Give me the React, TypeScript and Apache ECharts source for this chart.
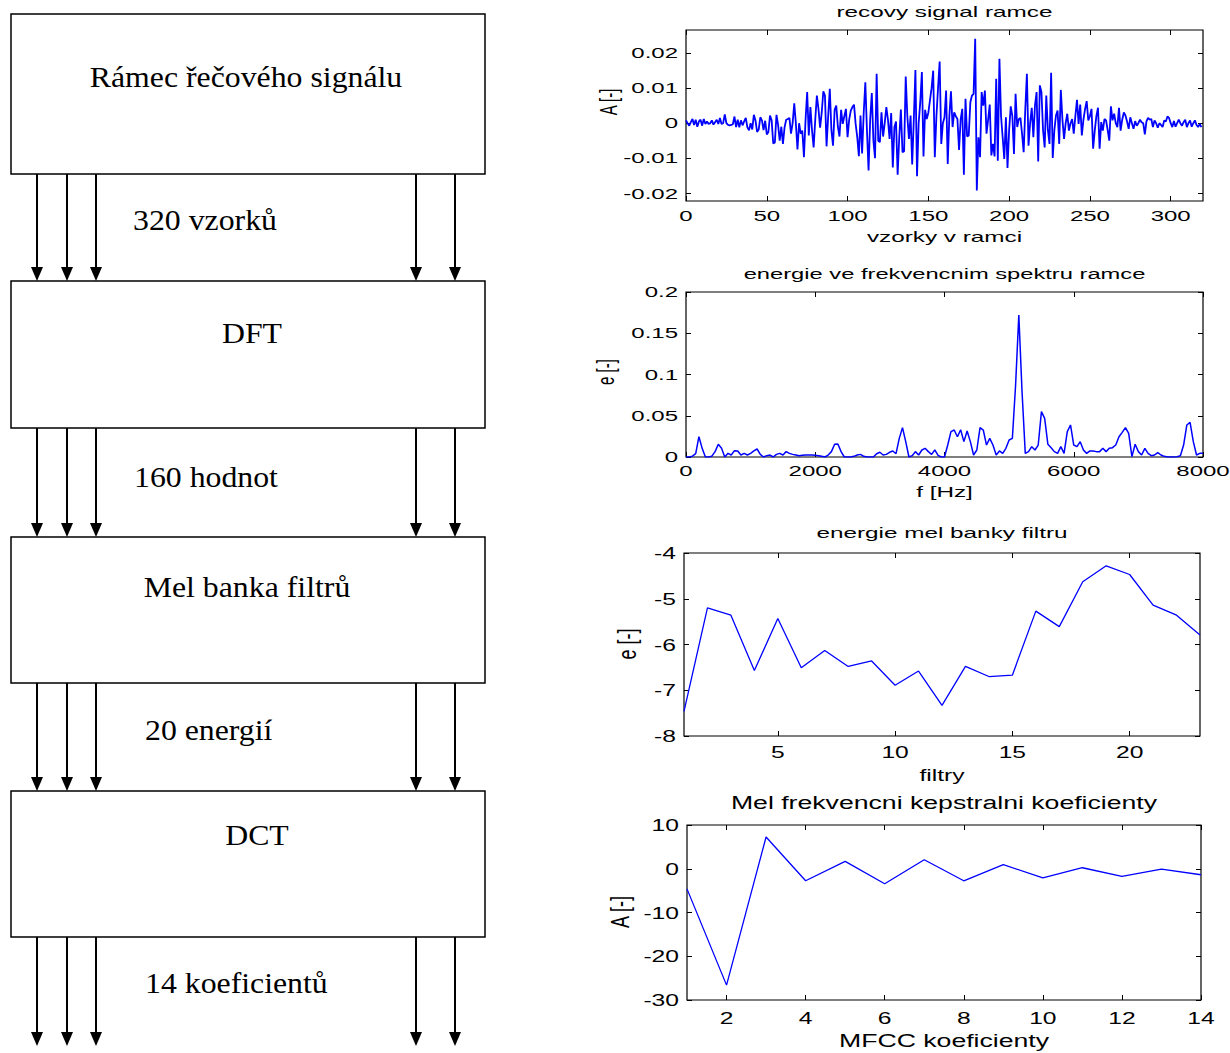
import React, { useEffect, useRef } from "react";
import * as echarts from "echarts";

// ---------------- DATA ----------------
// speech frame, 320 samples (sample index 0..319)
const frameSignal: number[] = [
  0.0008, 0, -0.0007, 0.0003, 0.0012, -0.0005, 0.001, -0.001, 0.0005, 0.001, -0.0007, 0.0012, -0.0002, 0.0005, -0.0002, 0, 0.0008, -0.0004, 0.0003, 0.001, -0.0002, 0.0015, -0.0002, 0,
  0.0025, 0, -0.0005, -0.0006, -0.0005, -0.0003, 0.0019, -0.0011, 0.001, -0.0012, 0.0008, -0.0006, 0.0005, 0.0015, -0.0012, -0.002, 0, -0.0018, 0.0024, 0.0008, -0.0025, -0.0018, 0.0017, 0.0008, -0.002, 0.0007, -0.0032, -0.0025, 0.0022, 0.0008, -0.0058, -0.0055, 0.0024, -0.0005, -0.005, -0.001, -0.0059, -0.0012, 0.001, 0.0012,
  0.0015, -0.003, 0, 0.0057, 0, -0.0075, 0, -0.003, -0.0021, -0.0097, 0.001, 0.0089, -0.0035, 0.0046, -0.002, -0.0069, 0.001, 0.0079, 0.004, -0.0013, 0.003, 0.0091, 0.0079, -0.0066, 0.002, 0.0098, -0.002, -0.0064, 0.0038, 0.005, -0.001, -0.0038, 0.0038, -0.0002, 0.002, 0.0041, -0.004, 0.001, 0.0036, 0.0046, 0.0053, -0.0002, -0.004, -0.0094, 0.0022, -0.0086, 0.003, 0.0117,
  -0.002, -0.0135, 0.001, 0.0086, -0.005, -0.01, 0.0141, -0.005, -0.0054, 0.0031, -0.0038, 0, 0.0046, 0.001, -0.0045, 0.0029, -0.0126,
  -0.0011, 0.0005, -0.0147, -0.004, 0.0039, -0.0083, -0.008, 0.0133, 0.002, -0.0045,
  0.0022, -0.0118, 0.001, 0.0152, -0.0151, 0, 0.006, 0.0146, -0.0095, 0.0038,
  0.0012, 0.003, 0.0065, 0.01, 0.015, -0.0097, 0.002, 0.01, 0.0176, -0.0059,
  0, 0.0017, 0.0093, -0.0116, 0.002, 0.0091, -0.0011, 0.0031, 0.002, 0.0012,
  -0.0076, 0.001, 0.0041, -0.0147, 0.007, -0.0038, -0.0035, 0.006, 0.0079, 0.0084,
  0.0241, -0.0192, -0.004, -0.0097, 0.0089, 0.005, 0.0093, -0.003, 0.001, 0.0053,
  -0.0092, -0.0059, -0.0095, 0.0127,
  -0.0107, 0.0184, 0.002, -0.004, -0.0102, 0.0017, -0.0128, -0.002, 0.0048, 0.002,
  -0.0088, 0.0084, -0.0011, 0.0012, 0.0015, -0.003, -0.0083, 0.004, 0.0141, -0.0064,
  0, 0.0044, -0.004, 0.005, 0.0089, -0.0109, 0.0108, 0.0089, -0.002, -0.0069,
  0.0079, -0.002, -0.0059, 0.0144, -0.0099, -0.002, 0.0022, 0.0036, -0.0059, 0.0095,
  0.001, -0.0045, 0, 0.0027, -0.0021, 0, 0.0012, -0.003, 0.002, 0.0067,
  -0.0002, 0.0053, -0.0035, 0.001, 0.004, 0.0063, 0.0008, 0.002, 0.0041, -0.0073,
  -0.0021, 0.002, 0.0044, -0.0073,
  0.0003, -0.0021, 0.0012, 0.0008, -0.002, -0.005, 0.0048, 0.0008, 0.0027, 0,
  -0.0011, 0.0044, -0.0021, 0.001, 0.0031, 0.0022, 0.0005, -0.0016, 0.0017, 0,
  -0.0016, 0.0006, -0.0007, 0, 0.001, 0.0003, 0, -0.0032, 0.0005, 0.0015,
  0.001, 0.0012, -0.0011, 0.0008, 0, -0.0013, 0, -0.0005, -0.0011, 0.0008,
  0.0005, 0.0019, 0.0015, 0, -0.0011, 0.0006, -0.001, 0, 0.001, 0,
  -0.0007, 0.0003, 0.001, -0.0011, 0, 0.0008, -0.001, 0, 0.0008, -0.0005,
  -0.0011, -0.0002, -0.0011,
];

// energy spectrum, bins every 50 Hz from 0 to 8000 Hz
const spectrumStepHz = 50;
const spectrumEnergy: number[] = [
  0, 0, 0.001, 0.004, 0.0246, 0.0105, 0, 0, 0.001, 0.0065,
  0.0154, 0.0105, 0, 0.0044, 0.0024, 0.0077, 0.0073, 0.0024, 0.0044, 0.0024,
  0.0044, 0.0073, 0.0097, 0.0032, 0, 0.0016, 0.0024, 0, 0.0032, 0.0044,
  0.0024, 0.0065, 0.0044, 0.0032, 0.0024, 0.0016, 0.002, 0.0024, 0.0024, 0.0024,
  0.002, 0.0016, 0.0008, 0, 0.0024, 0.0065, 0.0154, 0.0158, 0.0065, 0,
  0, 0, 0.0008, 0.0024, 0.0032, 0.0008, 0, 0, 0, 0.004,
  0.0057, 0.0024, 0.0032, 0.0057, 0.0073, 0.004, 0.0226, 0.0356, 0.0186, 0,
  0.0016, 0.0065, 0.0024, 0.0085, 0.0105, 0.0065, 0.0032, 0.0085, 0.002, 0,
  0, 0.0145, 0.0307, 0.0327, 0.0246, 0.033, 0.0186, 0.0315, 0.0186, 0.0024,
  0.0085, 0.0356, 0.0327, 0.0145, 0.0226, 0.0145, 0.0024, 0.0073, 0.0044, 0.0105,
  0.0206, 0.0226, 0.087, 0.172, 0.079, 0.0044, 0.0065, 0.0125, 0.0085, 0.0145,
  0.055, 0.0469, 0.0154, 0.0113, 0.0065, 0.0044, 0.0125, 0.0044, 0.0307, 0.0388,
  0.0145, 0.0125, 0.0186, 0.0085, 0.0044, 0.0073, 0.0073, 0.0065, 0.0065, 0.0105,
  0.0065, 0.0105, 0.0113, 0.0145, 0.0246, 0.0299, 0.0356, 0.0287, 0.0004, 0.0154,
  0.0065, 0.0024, 0.0105, 0.0044, 0.0016, 0.0024, 0.0053, 0.0024, 0.0008, 0,
  0, 0, 0.0004, 0.0016, 0.0145, 0.0388, 0.042, 0.0186, 0.0024, 0.0044,
  0.0044,
];

// mel filter bank log energies, filters 1..23
const melEnergy: number[] = [
  -7.46, -5.2, -5.36, -6.57, -5.43, -6.51, -6.13, -6.48, -6.36, -6.89, -6.58, -7.33,
  -6.48, -6.7, -6.67, -5.27, -5.61, -4.63, -4.28, -4.47, -5.14, -5.36, -5.79,
];

// MFCC coefficients 1..14
const mfccValues: number[] = [
  -4.6, -26.6, 7.25, -2.75, 1.68, -3.43, 2.06, -2.75, 0.92, -2.06, 0.23, -1.76, -0.08, -1.37,
];

// tick values
const sigXTicks = [0, 50, 100, 150, 200, 250, 300];
const sigYTicks = [-0.02, -0.01, 0, 0.01, 0.02];
const specXTicks = [0, 2000, 4000, 6000, 8000];
const specYTicks = [0, 0.05, 0.1, 0.15, 0.2];
const melXTicks = [5, 10, 15, 20];
const melYTicks = [-8, -7, -6, -5, -4];
const mfccXTicks = [2, 4, 6, 8, 10, 12, 14];
const mfccYTicks = [-30, -20, -10, 0, 10];

// diagram texts
const diagramBoxLabels = ["Rámec řečového signálu", "DFT", "Mel banka filtrů", "DCT"];
const diagramFlowLabels = ["320 vzorků", "160 hodnot", "20 energií", "14 koeficientů"];

// ---------------- LAYOUT ----------------
const SANS = '"Liberation Sans", Arial, Helvetica, sans-serif';
const SERIF = '"Liberation Serif", "Times New Roman", serif';

type Panel = {
  left: number; top: number; width: number; height: number;
  xMin: number; xMax: number; yMin: number; yMax: number;
  xTicks: number[]; yTicks: number[];
  data: number[][]; lineWidth: number;
  title: string; xName: string; yName: string;
  titleY: number; xNameY: number; yNameX: number; yNameY: number;
  tickLabelDy: number; titleFont: number; titleScale: number;
  tickFont: number; tickScale: number; nameFont: number; nameScale: number; yNameFont: number;
};

const panels: Panel[] = [
  {
    left: 686, top: 30, width: 517, height: 171,
    xMin: 0, xMax: 320, yMin: -0.0222, yMax: 0.0266,
    xTicks: sigXTicks, yTicks: sigYTicks,
    data: frameSignal.map((v, i) => [i, v]), lineWidth: 1.8,
    title: "recovy signal ramce", xName: "vzorky v ramci", yName: "A [-]",
    titleY: 12, xNameY: 237, yNameX: 609, yNameY: 102,
    tickLabelDy: 15, titleFont: 15, titleScale: 1.62,
    tickFont: 15, tickScale: 1.6, nameFont: 15, nameScale: 1.62, yNameFont: 15,
  },
  {
    left: 686, top: 292, width: 517, height: 165,
    xMin: 0, xMax: 8000, yMin: 0, yMax: 0.2,
    xTicks: specXTicks, yTicks: specYTicks,
    data: spectrumEnergy.map((v, i) => [i * spectrumStepHz, v]), lineWidth: 1.5,
    title: "energie ve frekvencnim spektru ramce", xName: "f [Hz]", yName: "e [-]",
    titleY: 274, xNameY: 492, yNameX: 606, yNameY: 372,
    tickLabelDy: 14, titleFont: 15, titleScale: 1.58,
    tickFont: 15, tickScale: 1.6, nameFont: 15, nameScale: 1.62, yNameFont: 15,
  },
  {
    left: 684, top: 553, width: 516, height: 183,
    xMin: 1, xMax: 23, yMin: -8, yMax: -4,
    xTicks: melXTicks, yTicks: melYTicks,
    data: melEnergy.map((v, i) => [i + 1, v]), lineWidth: 1.3,
    title: "energie mel banky filtru", xName: "filtry", yName: "e [-]",
    titleY: 533, xNameY: 775, yNameX: 627, yNameY: 644,
    tickLabelDy: 16, titleFont: 15, titleScale: 1.62,
    tickFont: 17, tickScale: 1.45, nameFont: 17, nameScale: 1.45, yNameFont: 18,
  },
  {
    left: 687, top: 825, width: 514, height: 175,
    xMin: 1, xMax: 14, yMin: -30, yMax: 10,
    xTicks: mfccXTicks, yTicks: mfccYTicks,
    data: mfccValues.map((v, i) => [i + 1, v]), lineWidth: 1.3,
    title: "Mel frekvencni kepstralni koeficienty", xName: "MFCC koeficienty", yName: "A [-]",
    titleY: 803, xNameY: 1041, yNameX: 620, yNameY: 912,
    tickLabelDy: 18, titleFont: 18, titleScale: 1.48,
    tickFont: 17, tickScale: 1.45, nameFont: 18, nameScale: 1.48, yNameFont: 18,
  },
];

// block diagram geometry
const boxX0 = 11;
const boxX1 = 485;
const boxes: [number, number][] = [[14, 174], [281, 428], [537, 683], [791, 937]];
const arrowXs = [37, 67, 96, 416, 455];
const lastArrowEnd = 1046;
const boxLabelPos: [number, number][] = [[246, 77], [252, 333], [247, 587], [257, 835]];
const flowLabelPos: [number, number][] = [[133, 220], [134, 477], [145, 730], [145, 983]];

function fmt(v: number): string {
  return String(v);
}

function textEl(text: string, x: number, y: number, font: string, opts: any = {}) {
  const align = opts.align || "center";
  return {
    type: "text",
    x, y,
    rotation: opts.rotation || 0,
    scaleX: opts.scaleX || 1,
    scaleY: opts.scaleY || 1,
    silent: true,
    z: 100,
    style: {
      text, font, fill: "#000",
      align, verticalAlign: "middle",
      textAlign: align, textVerticalAlign: "middle",
    },
  };
}

function buildOption() {
  const grid: any[] = [];
  const xAxis: any[] = [];
  const yAxis: any[] = [];
  const series: any[] = [];
  const tick = (ticks: number[]) => ({
    show: true, inside: true, length: 5, customValues: ticks,
    lineStyle: { color: "#000", width: 1 },
  });
  panels.forEach((p, k) => {
    grid.push({
      left: p.left, top: p.top, width: p.width, height: p.height,
      show: true, borderColor: "#000", borderWidth: 1.2, backgroundColor: "#fff",
    });
    for (const pos of ["bottom", "top"]) {
      xAxis.push({
        type: "value", gridIndex: k, position: pos, min: p.xMin, max: p.xMax,
        axisLine: { show: false, onZero: false }, axisTick: tick(p.xTicks),
        axisLabel: { show: false }, splitLine: { show: false },
      });
    }
    for (const pos of ["left", "right"]) {
      yAxis.push({
        type: "value", gridIndex: k, position: pos, min: p.yMin, max: p.yMax,
        axisLine: { show: false, onZero: false }, axisTick: tick(p.yTicks),
        axisLabel: { show: false }, splitLine: { show: false },
      });
    }
    series.push({
      type: "line", xAxisIndex: 2 * k, yAxisIndex: 2 * k, data: p.data,
      showSymbol: false, symbol: "none", silent: true, clip: true,
      lineStyle: { color: "#0000ff", width: p.lineWidth },
    });
  });
  return {
    animation: false,
    backgroundColor: "#fff",
    grid, xAxis, yAxis, series,
  };
}

function diagramGraphics(): any[] {
  const els: any[] = [];
  boxes.forEach(([y0, y1]) => {
    els.push({
      type: "rect", silent: true,
      shape: { x: boxX0, y: y0, width: boxX1 - boxX0, height: y1 - y0 },
      style: { fill: "#fff", stroke: "#000", lineWidth: 1.5 },
    });
  });
  boxes.forEach(([, y1], i) => {
    const yEnd = i + 1 < boxes.length ? boxes[i + 1][0] : lastArrowEnd;
    arrowXs.forEach((ax) => {
      els.push({
        type: "line", silent: true,
        shape: { x1: ax, y1: y1, x2: ax, y2: yEnd - 12 },
        style: { stroke: "#000", lineWidth: 2 },
      });
      els.push({
        type: "polygon", silent: true,
        shape: { points: [[ax - 6, yEnd - 14], [ax + 6, yEnd - 14], [ax, yEnd]] },
        style: { fill: "#000" },
      });
    });
  });
  const serif = `30px ${SERIF}`;
  diagramBoxLabels.forEach((t, i) => {
    els.push(textEl(t, boxLabelPos[i][0], boxLabelPos[i][1], serif, { scaleX: 1.06 }));
  });
  diagramFlowLabels.forEach((t, i) => {
    els.push(textEl(t, flowLabelPos[i][0], flowLabelPos[i][1], serif, { align: "left", scaleX: 1.06 }));
  });
  return els;
}

function panelGraphics(chart: echarts.ECharts): any[] {
  const els: any[] = [];
  panels.forEach((p, k) => {
    const cx = p.left + p.width / 2;
    els.push(textEl(p.title, cx, p.titleY, `${p.titleFont}px ${SANS}`, { scaleX: p.titleScale }));
    els.push(textEl(p.xName, cx, p.xNameY, `${p.nameFont}px ${SANS}`, { scaleX: p.nameScale }));
    els.push(textEl(p.yName, p.yNameX, p.yNameY, `${p.yNameFont}px ${SANS}`, {
      rotation: Math.PI / 2, scaleY: p.nameScale,
    }));
    const tf = `${p.tickFont}px ${SANS}`;
    const bottom = p.top + p.height;
    p.xTicks.forEach((v) => {
      const px = chart.convertToPixel({ xAxisIndex: 2 * k } as any, v) as unknown as number;
      els.push(textEl(fmt(v), px, bottom + p.tickLabelDy, tf, { scaleX: p.tickScale }));
    });
    p.yTicks.forEach((v) => {
      const py = chart.convertToPixel({ yAxisIndex: 2 * k } as any, v) as unknown as number;
      els.push(textEl(fmt(v), p.left - 8, py, tf, { align: "right", scaleX: p.tickScale }));
    });
  });
  return els;
}

export default function App() {
  const ref = useRef<HTMLDivElement>(null);
  useEffect(() => {
    if (!ref.current) return;
    const chart = echarts.init(ref.current, undefined, { renderer: "svg" });
    chart.setOption(buildOption());
    chart.setOption({ graphic: [...diagramGraphics(), ...panelGraphics(chart)] });
    return () => chart.dispose();
  }, []);
  return (
    <div
      ref={ref}
      style={{ position: "absolute", left: 0, top: 0, width: 1230, height: 1053, background: "#fff" }}
    />
  );
}
